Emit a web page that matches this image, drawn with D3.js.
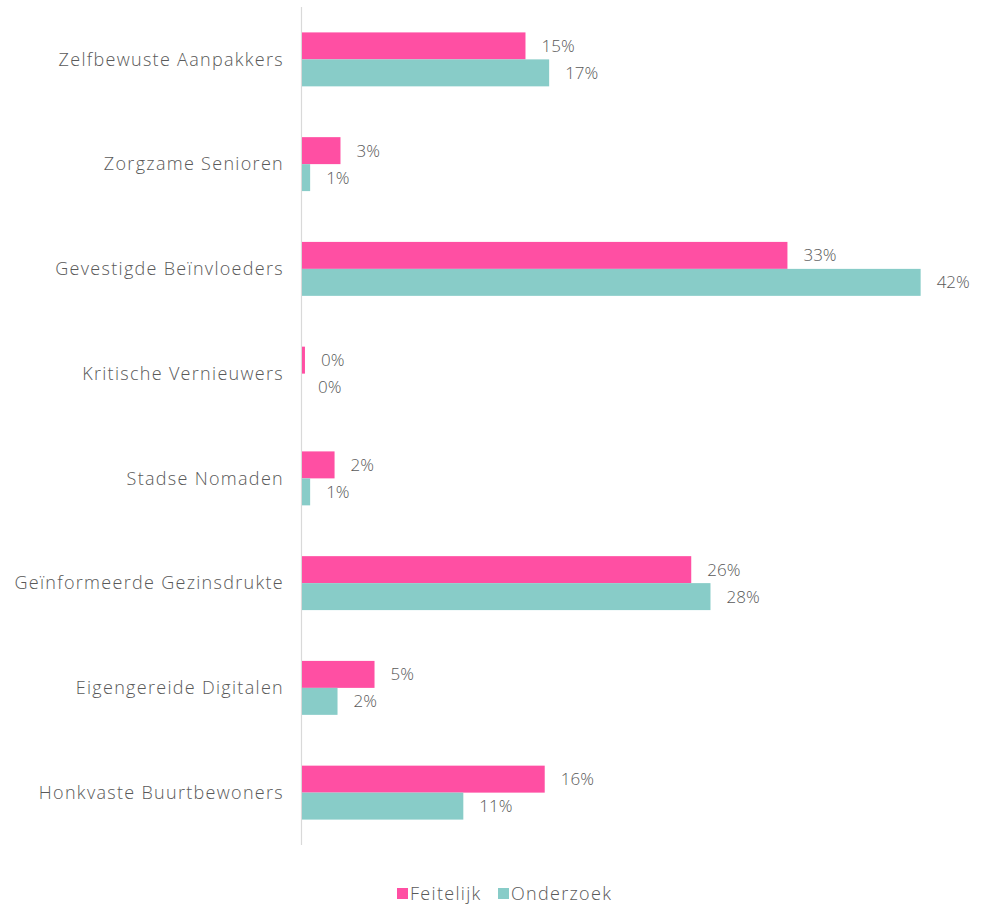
<!DOCTYPE html>
<html>
<head>
<meta charset="utf-8">
<script src="https://cdn.jsdelivr.net/npm/d3@7"></script>
<style>
  html, body { margin: 0; padding: 0; background: #fff; }
  svg { display: block; }
  text { font-family: "Open Sans", "Noto Sans", sans-serif; font-weight: 300; fill: #595959; }
  .wide { letter-spacing: 1.3px; }
</style>
</head>
<body>
<svg id="chart" width="992" height="904"></svg>
<script>
// Segments, in display order (top to bottom)
const categories = [
  "Zelfbewuste Aanpakkers",
  "Zorgzame Senioren",
  "Gevestigde Beïnvloeders",
  "Kritische Vernieuwers",
  "Stadse Nomaden",
  "Geïnformeerde Gezinsdrukte",
  "Eigengereide Digitalen",
  "Honkvaste Buurtbewoners"
];
// Share per segment (fractions)
const feitelijk = [0.151, 0.026, 0.328, 0.002, 0.022, 0.263, 0.049, 0.164];
const onderzoek = [0.167, 0.0055, 0.418, 0.0, 0.0055, 0.276, 0.024, 0.109];
const seriesNames = ["Feitelijk", "Onderzoek"];
const seriesColors = ["#FF4FA3", "#88CCC8"];

const series = [feitelijk, onderzoek];
const svg = d3.select("#chart");

const x = d3.scaleLinear().domain([0, 0.45]).range([302, 968]);
const y = d3.scaleBand().domain(categories).range([7, 845]).paddingInner(0.485).paddingOuter(0.2425);
const inner = d3.scaleBand().domain(seriesNames).range([0, y.bandwidth()]);
const fmt = d3.format(".0%");

// vertical category axis line
svg.append("line")
  .attr("x1", 301.5).attr("x2", 301.5)
  .attr("y1", 7).attr("y2", 845)
  .attr("stroke", "#d9d9d9").attr("stroke-width", 1.2);

// category labels
svg.append("g").selectAll("text")
  .data(categories).join("text")
  .attr("class", "wide")
  .attr("x", 284)
  .attr("y", d => y(d) + y.bandwidth() / 2)
  .attr("dy", "0.35em")
  .attr("text-anchor", "end")
  .attr("font-size", 18)
  .text(d => d);

// bars and value labels
seriesNames.forEach((name, si) => {
  const g = svg.append("g");
  const rows = categories.map((c, i) => ({ c, v: series[si][i] }));
  g.selectAll("rect").data(rows).join("rect")
    .attr("x", x(0))
    .attr("y", d => y(d.c) + inner(name))
    .attr("width", d => x(d.v) - x(0))
    .attr("height", inner.bandwidth())
    .attr("fill", seriesColors[si]);
  g.selectAll("text").data(rows).join("text")
    .attr("x", d => x(d.v) + 16)
    .attr("y", d => y(d.c) + inner(name) + inner.bandwidth() / 2)
    .attr("dy", "0.35em")
    .attr("font-size", 17)
    .text(d => fmt(d.v));
});

// legend
const legend = svg.append("g");
const legendItems = [{ n: seriesNames[0], c: seriesColors[0], x: 397 }, { n: seriesNames[1], c: seriesColors[1], x: 498 }];
legendItems.forEach(it => {
  legend.append("rect").attr("x", it.x).attr("y", 888).attr("width", 11).attr("height", 11).attr("fill", it.c);
  legend.append("text").attr("class", "wide").attr("x", it.x + 13).attr("y", 893.5).attr("dy", "0.35em")
    .attr("font-size", 18).text(it.n);
});
</script>
</body>
</html>
